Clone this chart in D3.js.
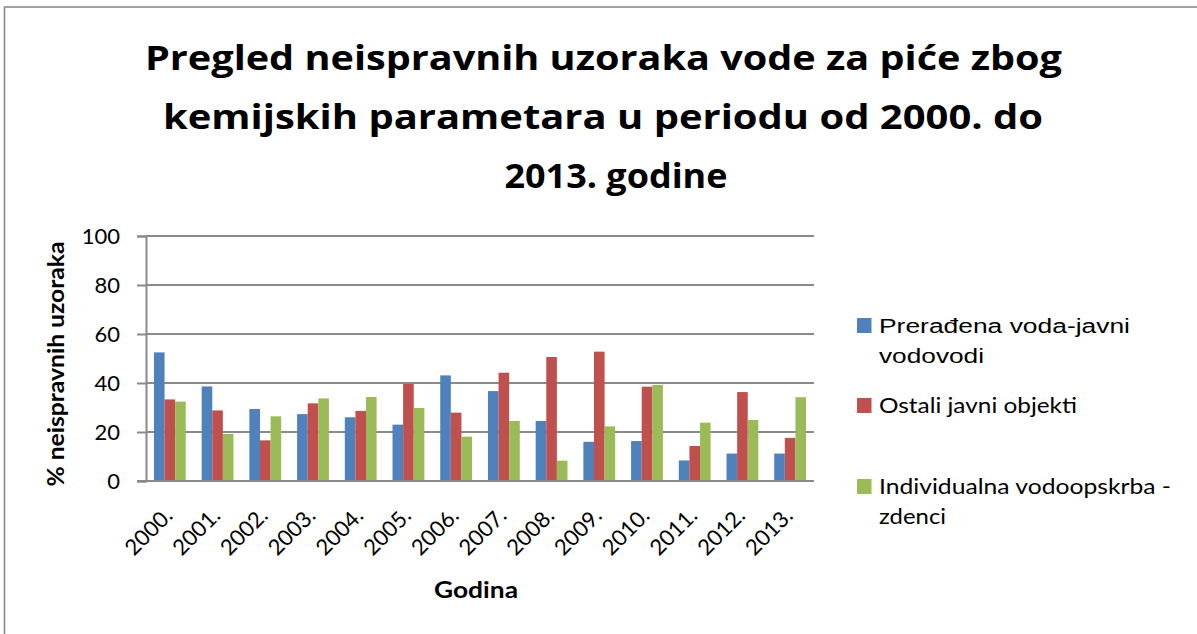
<!DOCTYPE html>
<html>
<head>
<meta charset="utf-8">
<script src="https://cdn.jsdelivr.net/npm/d3@7"></script>
<style>
  html, body { margin: 0; padding: 0; background: #fff; }
  svg { display: block; }
  text { fill: #000; }
</style>
</head>
<body>
<svg id="chart" width="1197" height="634"></svg>
<script>
// Godine (kategorije)
const years = ["2000.", "2001.", "2002.", "2003.", "2004.", "2005.", "2006.",
               "2007.", "2008.", "2009.", "2010.", "2011.", "2012.", "2013."];

// Serije: % neispravnih uzoraka
const seriesNames = ["Prerađena voda-javni vodovodi", "Ostali javni objekti", "Individualna vodoopskrba - zdenci"];
const preradjenaVoda = [52.5, 38.6, 29.4, 27.3, 26.0, 23.0, 43.1, 36.7, 24.5, 16.0, 16.3, 8.4, 11.2, 11.2];
const ostaliObjekti  = [33.3, 28.8, 16.6, 31.7, 28.6, 39.6, 27.9, 44.2, 50.6, 52.8, 38.5, 14.3, 36.3, 17.6];
const zdenci         = [32.4, 19.2, 26.4, 33.7, 34.3, 29.8, 18.1, 24.5, 8.3, 22.3, 39.2, 23.8, 24.9, 34.2];

// Oznake osi Y
const yTicks = [0, 20, 40, 60, 80, 100];

const titleLines = ["Pregled neispravnih uzoraka vode za piće zbog",
                    "kemijskih parametara u periodu od 2000. do",
                    "2013. godine"];

const colors = ["#4F81BD", "#C0504D", "#9BBB59"];
const seriesValues = [preradjenaVoda, ostaliObjekti, zdenci];

const svg = d3.select("#chart");
const plot = { left: 146, right: 814, top: 236, bottom: 481 };

// okvir grafikona
svg.append("rect")
  .attr("x", 4.5).attr("y", 7)
  .attr("width", 1300).attr("height", 700)
  .attr("fill", "none").attr("stroke", "#8a8a8a").attr("stroke-width", 1.6);

// naslov
const titleFit = [917, 880, 223];
const titleCx = [603.5, 603, 616];
const titleY = [70, 129, 188];
svg.append("g").selectAll("text").data(titleLines).join("text")
  .attr("x", (d, i) => titleCx[i])
  .attr("y", (d, i) => titleY[i])
  .attr("text-anchor", "middle")
  .attr("font-family", "'Open Sans', Lato, sans-serif")
  .attr("font-weight", 700)
  .attr("font-size", 34)
  .attr("textLength", (d, i) => titleFit[i])
  .attr("lengthAdjust", "spacingAndGlyphs")
  .text(d => d);

// skale
const x0 = d3.scaleBand().domain(years)
  .range([plot.left, plot.right])
  .paddingInner(1 / 3).paddingOuter(1 / 6);
const x1 = d3.scaleBand().domain(d3.range(seriesValues.length))
  .range([0, x0.bandwidth()]).padding(0);
const y = d3.scaleLinear().domain([0, 100]).range([plot.bottom, plot.top]);

// mreža i os Y
const yAxis = d3.axisLeft(y).tickValues(yTicks).tickSize(9).tickPadding(17);
const gy = svg.append("g").attr("transform", `translate(${plot.left},0)`).call(yAxis);
gy.select(".domain").attr("stroke", "#8a8a8a").attr("stroke-width", 2);
gy.selectAll(".tick line").attr("stroke", "#8a8a8a").attr("stroke-width", 2);
gy.selectAll(".tick text")
  .attr("font-family", "Lato, sans-serif").attr("font-size", 22).attr("fill", "#000");

svg.append("g").selectAll("line").data(yTicks).join("line")
  .attr("x1", plot.left).attr("x2", plot.right)
  .attr("y1", d => y(d)).attr("y2", d => y(d))
  .attr("stroke", "#8a8a8a").attr("stroke-width", 2);

// stupci
const groups = svg.append("g").selectAll("g").data(years).join("g")
  .attr("transform", d => `translate(${x0(d)},0)`);
groups.selectAll("rect")
  .data((d, i) => seriesValues.map((s, k) => ({ k, v: s[i] })))
  .join("rect")
  .attr("x", d => x1(d.k))
  .attr("width", x1.bandwidth())
  .attr("y", d => y(d.v))
  .attr("height", d => y(0) - y(d.v))
  .attr("fill", d => colors[d.k]);

// os X
svg.append("line")
  .attr("x1", plot.left - 9).attr("x2", plot.right)
  .attr("y1", y(0)).attr("y2", y(0))
  .attr("stroke", "#8a8a8a").attr("stroke-width", 2);

const xAxis = d3.axisBottom(x0).tickSize(0).tickPadding(0);
const gx = svg.append("g").attr("transform", `translate(0,${plot.bottom})`).call(xAxis);
gx.select(".domain").remove();
gx.selectAll(".tick text")
  .attr("font-family", "Lato, sans-serif").attr("font-size", 22).attr("fill", "#000")
  .attr("text-anchor", "end")
  .attr("dy", null)
  .attr("y", 0)
  .attr("transform", "translate(4,36) rotate(-45)");

// naslovi osi
svg.append("text")
  .attr("transform", "translate(64,364) rotate(-90)")
  .attr("text-anchor", "middle")
  .attr("font-family", "Lato, sans-serif").attr("font-weight", 700).attr("font-size", 22)
  .attr("textLength", 245).attr("lengthAdjust", "spacingAndGlyphs")
  .text("% neispravnih uzoraka");

svg.append("text")
  .attr("x", 476).attr("y", 598)
  .attr("text-anchor", "middle")
  .attr("font-family", "Lato, sans-serif").attr("font-weight", 700).attr("font-size", 22)
  .attr("textLength", 84).attr("lengthAdjust", "spacingAndGlyphs")
  .text("Godina");

// legenda
const legendLines = [
  [{ t: "Prerađena voda-javni", w: 251, f: "'Liberation Sans', Arial, sans-serif", s: 20 },
   { t: "vodovodi", w: 105, f: "'Liberation Sans', Arial, sans-serif", s: 20 }],
  [{ t: "Ostali javni objekti", w: 198, f: "Lato, sans-serif", s: 22 }],
  [{ t: "Individualna vodoopskrba -", w: 292, f: "Lato, sans-serif", s: 22 },
   { t: "zdenci", w: 67, f: "Lato, sans-serif", s: 22 }]
];
const legendBaseline = [333, 413, 494];
const legend = svg.append("g").selectAll("g").data(seriesNames).join("g")
  .attr("transform", (d, i) => `translate(857,${legendBaseline[i]})`);
legend.append("rect")
  .attr("x", 0).attr("y", -15).attr("width", 14.5).attr("height", 15)
  .attr("fill", (d, i) => colors[i]);
legend.each(function (d, i) {
  d3.select(this).selectAll("text").data(legendLines[i]).join("text")
    .attr("x", 22)
    .attr("y", (l, j) => j * 30)
    .attr("font-family", l => l.f)
    .attr("font-size", l => l.s)
    .attr("textLength", l => l.w)
    .attr("lengthAdjust", "spacingAndGlyphs")
    .text(l => l.t);
});
</script>
</body>
</html>
